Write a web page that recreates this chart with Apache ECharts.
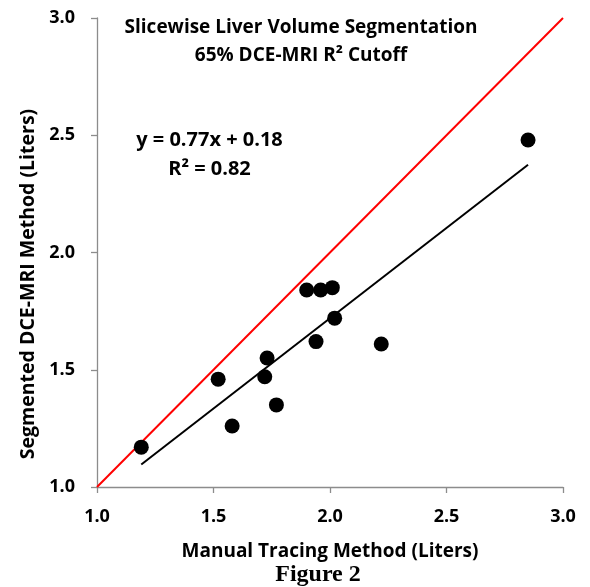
<!DOCTYPE html>
<html><head><meta charset="utf-8">
<script src="https://cdn.jsdelivr.net/npm/echarts@6/dist/echarts.min.js"></script>
<style>html,body{margin:0;padding:0;background:#fff}#c{width:590px;height:587px}</style>
</head><body><div id="c"></div>
<script>
const manualX = [1.19, 1.52, 1.58, 1.73, 1.72, 1.77, 1.90, 1.96, 2.01, 2.02, 1.94, 2.22, 2.85];
const dceY    = [1.17, 1.46, 1.26, 1.55, 1.47, 1.35, 1.84, 1.84, 1.85, 1.72, 1.62, 1.61, 2.48];
const fitSlope = 0.77, fitIntercept = 0.18;
const identity = [[1.0, 1.0], [3.0, 3.0]];

const pts = manualX.map((x, i) => [x, dceY[i]]);
const xmin = Math.min(...manualX), xmax = Math.max(...manualX);
const fit = [[xmin, fitSlope * xmin + fitIntercept], [xmax, fitSlope * xmax + fitIntercept]];
const F = '"Open Sans", "Noto Sans", sans-serif';
const chart = echarts.init(document.getElementById('c'));
const axisCommon = {
  min: 1, max: 3, interval: 0.5,
  axisLine: {show: true, lineStyle: {color: '#8c8c8c', width: 1.3}},
  axisTick: {show: true, inside: false, length: 6, lineStyle: {color: '#8c8c8c', width: 1.3}},
  splitLine: {show: false},
  axisLabel: {color: '#000', fontWeight: 'bold', fontSize: 18, fontFamily: F, formatter: v => v.toFixed(1)},
  nameTextStyle: {color: '#000', fontWeight: 'bold', fontSize: 19, fontFamily: F}
};
chart.setOption({
  animation: false,
  grid: {left: 97, right: 27, top: 18, bottom: 100, containLabel: false},
  xAxis: Object.assign({}, axisCommon, {type: 'value', name: 'Manual Tracing Method (Liters)', nameLocation: 'middle', nameGap: 55,
    axisLabel: Object.assign({}, axisCommon.axisLabel, {margin: 21})}),
  yAxis: Object.assign({}, axisCommon, {type: 'value',
    axisLabel: Object.assign({}, axisCommon.axisLabel, {margin: 22})}),
  graphic: [
    {type: 'text', x: 28, y: 284, rotation: Math.PI / 2, style: {text: 'Segmented DCE-MRI Method (Liters)', font: 'bold 19.5px ' + F, fill: '#000', align: 'center', verticalAlign: 'middle'}},
    {type: 'text', x: 301, y: 28, style: {text: 'Slicewise Liver Volume Segmentation', font: 'bold 19px ' + F, fill: '#000', align: 'center', verticalAlign: 'middle'}},
    {type: 'text', x: 301, y: 56, style: {text: '65% DCE-MRI R\u00b2 Cutoff', font: 'bold 19px ' + F, fill: '#000', align: 'center', verticalAlign: 'middle'}},
    {type: 'text', x: 209.5, y: 140, style: {text: 'y = 0.77x + 0.18', font: 'bold 20px ' + F, fill: '#000', align: 'center', verticalAlign: 'middle'}},
    {type: 'text', x: 209.5, y: 169, style: {text: 'R\u00b2 = 0.82', font: 'bold 20px ' + F, fill: '#000', align: 'center', verticalAlign: 'middle'}},
    {type: 'text', x: 318, y: 575, style: {text: 'Figure 2', font: 'bold 24px "Liberation Serif", "DejaVu Serif", serif', fill: '#000', align: 'center', verticalAlign: 'middle'}}
  ],
  series: [
    {type: 'line', data: identity, symbol: 'none', lineStyle: {color: '#ff0000', width: 2}, z: 2},
    {type: 'line', data: fit, symbol: 'none', lineStyle: {color: '#000', width: 2}, z: 3},
    {type: 'scatter', data: pts, symbol: 'circle', symbolSize: 15, itemStyle: {color: '#000', opacity: 1}, z: 4}
  ]
});
</script></body></html>
